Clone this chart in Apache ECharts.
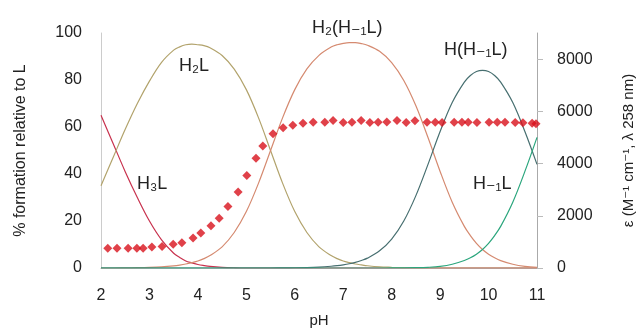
<!DOCTYPE html>
<html>
<head>
<meta charset="utf-8">
<script src="https://cdn.jsdelivr.net/npm/echarts@6/dist/echarts.min.js"></script>
<style>
  html, body { margin: 0; padding: 0; background: #fff; }
  #chart { width: 642px; height: 330px; }
</style>
</head>
<body>
<div id="chart"></div>
<script>
// pH grid for the species curves (a bit denser around the peaks)
var phGrid = [2, 2.25, 2.5, 2.75, 3, 3.25, 3.5, 3.625, 3.75, 3.875, 4, 4.125, 4.25, 4.5, 4.75, 5, 5.25, 5.5,
  5.75, 6, 6.25, 6.5, 6.75, 6.875, 7, 7.125, 7.25, 7.375, 7.5, 7.75, 8, 8.25, 8.5, 8.75, 9, 9.25, 9.5,
  9.625, 9.75, 9.875, 10, 10.125, 10.25, 10.5, 10.75, 11];

// % formation (left axis)
var h3l = [65, 53, 41, 30, 20, 12, 6.3, 4.5, 3, 2.2, 1.5, 1.05, 0.7, 0.3, 0.1, 0, 0, 0,
  0, 0, 0, 0, 0, 0, 0, 0, 0, 0, 0, 0, 0, 0, 0, 0, 0, 0, 0,
  0, 0, 0, 0, 0, 0, 0, 0, 0];
var h2l = [35, 47, 59, 70, 79.5, 87.5, 92.7, 94.1, 95, 95.3, 95, 94.6, 93.7, 90.4, 84.6, 75.9, 64, 50,
  36, 24, 15.1, 9, 5.3, 4, 3, 2.3, 1.7, 1.3, 0.95, 0.5, 0.3, 0.14, 0.07, 0, 0, 0, 0,
  0, 0, 0, 0, 0, 0, 0, 0, 0];
var h2h1l = [0, 0, 0.06, 0.13, 0.26, 0.5, 0.93, 1.26, 1.7, 2.3, 3, 4, 5.3, 9, 15.1, 24, 36, 50,
  64, 75.9, 84.7, 90.5, 94, 95, 95.6, 95.9, 95.9, 95.5, 94.8, 92.2, 87.4, 79.8, 69, 55.5, 41.1, 28, 17.7,
  13.8, 10.5, 7.9, 5.9, 4.35, 3.15, 1.6, 0.7, 0.3];
var hh1l = [0, 0, 0, 0, 0, 0, 0, 0, 0, 0, 0, 0, 0, 0, 0, 0, 0, 0,
  0.05, 0.1, 0.2, 0.4, 0.75, 1, 1.35, 1.8, 2.4, 3.2, 4.2, 7.3, 12.3, 20, 30.8, 44.1, 58.1, 70.4, 79.1,
  81.9, 83.6, 84.1, 83.6, 81.9, 79.1, 70.4, 58.1, 44.1];
var h1l = [0, 0, 0, 0, 0, 0, 0, 0, 0, 0, 0, 0, 0, 0, 0, 0, 0, 0,
  0, 0, 0, 0, 0, 0, 0, 0, 0, 0, 0, 0, 0.02, 0.04, 0.12, 0.3, 0.7, 1.6, 3.2,
  4.35, 5.9, 7.9, 10.5, 13.8, 17.7, 28, 41.1, 55.6];

// measured epsilon (right axis)
var epsPH = [2.14, 2.33, 2.56, 2.74, 2.87, 3.05, 3.26, 3.49, 3.67, 3.9, 4.06, 4.27, 4.44, 4.62, 4.83, 5.01,
  5.2, 5.34, 5.55, 5.76, 5.96, 6.17, 6.38, 6.62, 6.79, 7, 7.18, 7.37, 7.55, 7.72, 7.9, 8.11, 8.3, 8.48,
  8.73, 8.9, 9.04, 9.29, 9.45, 9.58, 9.76, 10.01, 10.18, 10.34, 10.55, 10.71, 10.9, 10.98];
var epsVal = [760, 760, 760, 760, 760, 800, 820, 910, 970, 1150, 1340, 1620, 1910, 2360, 2910, 3540,
  4200, 4670, 5140, 5370, 5470, 5540, 5580, 5580, 5650, 5570, 5580, 5650, 5570, 5580, 5590, 5650, 5570, 5640,
  5580, 5580, 5570, 5580, 5580, 5580, 5570, 5580, 5580, 5580, 5570, 5560, 5540, 5520];

var xTicks = [2, 3, 4, 5, 6, 7, 8, 9, 10, 11];
var leftTicks = [0, 20, 40, 60, 80, 100];
var rightTicks = [0, 2000, 4000, 6000, 8000];

var FONT = "'Liberation Sans', 'DejaVu Sans', sans-serif";
var INK = "#222";

function pairs(xs, ys) {
  return xs.map(function (x, i) { return [x, ys[i]]; });
}

function curve(name, data, color) {
  return {
    name: name,
    type: "line",
    data: pairs(phGrid, data),
    smooth: 0.35,
    showSymbol: false,
    lineStyle: { color: color, width: 1.2 },
    itemStyle: { color: color },
    z: 2
  };
}

var chart = echarts.init(document.getElementById("chart"));

var option = {
  animation: false,
  textStyle: { fontFamily: FONT },
  grid: { left: 101, right: 105, top: 33, bottom: 62, outerBoundsMode: "none", containLabel: false },
  xAxis: {
    type: "value",
    min: xTicks[0],
    max: xTicks[xTicks.length - 1],
    interval: 1,
    name: "pH",
    nameLocation: "middle",
    nameGap: 45,
    nameTextStyle: { fontSize: 15, color: INK, fontFamily: FONT },
    axisLine: { lineStyle: { color: "#bbb" } },
    axisTick: { show: false },
    splitLine: { show: false },
    axisLabel: { fontSize: 16, color: INK, margin: 20, fontFamily: FONT }
  },
  yAxis: [
    {
      type: "value",
      min: leftTicks[0],
      max: leftTicks[leftTicks.length - 1],
      interval: 20,
      name: "% formation relative to L",
      nameLocation: "middle",
      nameRotate: 90,
      nameGap: 72,
      nameTextStyle: { fontSize: 16, color: INK, fontFamily: FONT },
      axisLine: { show: true, lineStyle: { color: "#ccc" } },
      axisTick: { show: false },
      splitLine: { show: false },
      axisLabel: { fontSize: 16, color: INK, margin: 19, fontFamily: FONT }
    },
    {
      type: "value",
      position: "right",
      min: rightTicks[0],
      max: 9000,
      interval: 2000,
      name: "\u03b5 (M\u207b\u00b9 cm\u207b\u00b9, \u03bb 258 nm)",
      nameLocation: "middle",
      nameRotate: 90,
      nameGap: 84,
      nameTextStyle: { fontSize: 15, color: INK, fontFamily: FONT },
      axisLine: { show: true, lineStyle: { color: "#aaa" } },
      axisTick: { show: true, length: 6, lineStyle: { color: "#bbb" } },
      splitLine: { show: false },
      axisLabel: {
        fontSize: 16, color: INK, margin: 20, showMaxLabel: false, fontFamily: FONT,
        formatter: function (v) { return String(v); }
      }
    }
  ],
  series: [
    curve("H3L", h3l, "#c8324e"),
    curve("H2L", h2l, "#b2a36c"),
    curve("H2(H-1L)", h2h1l, "#d58a70"),
    curve("H(H-1L)", hh1l, "#476f70"),
    curve("H-1L", h1l, "#2ba67d"),
    {
      name: "epsilon",
      type: "scatter",
      yAxisIndex: 1,
      data: pairs(epsPH, epsVal),
      symbol: "diamond",
      symbolSize: 9,
      itemStyle: { color: "#d8121c" },
      z: 5
    }
  ],
  graphic: [
    { type: "text", left: 179, top: 57, style: { text: "H\u2082L", font: "18px " + FONT, fill: INK } },
    { type: "text", left: 137, top: 175, style: { text: "H\u2083L", font: "18px " + FONT, fill: INK } },
    { type: "text", left: 312, top: 19, style: { text: "H\u2082(H\u208b\u2081L)", font: "18px " + FONT, fill: INK } },
    { type: "text", left: 444, top: 41, style: { text: "H(H\u208b\u2081L)", font: "18px " + FONT, fill: INK } },
    { type: "text", left: 473, top: 175, style: { text: "H\u208b\u2081L", font: "18px " + FONT, fill: INK } }
  ]
};

chart.setOption(option);
</script>
</body>
</html>
